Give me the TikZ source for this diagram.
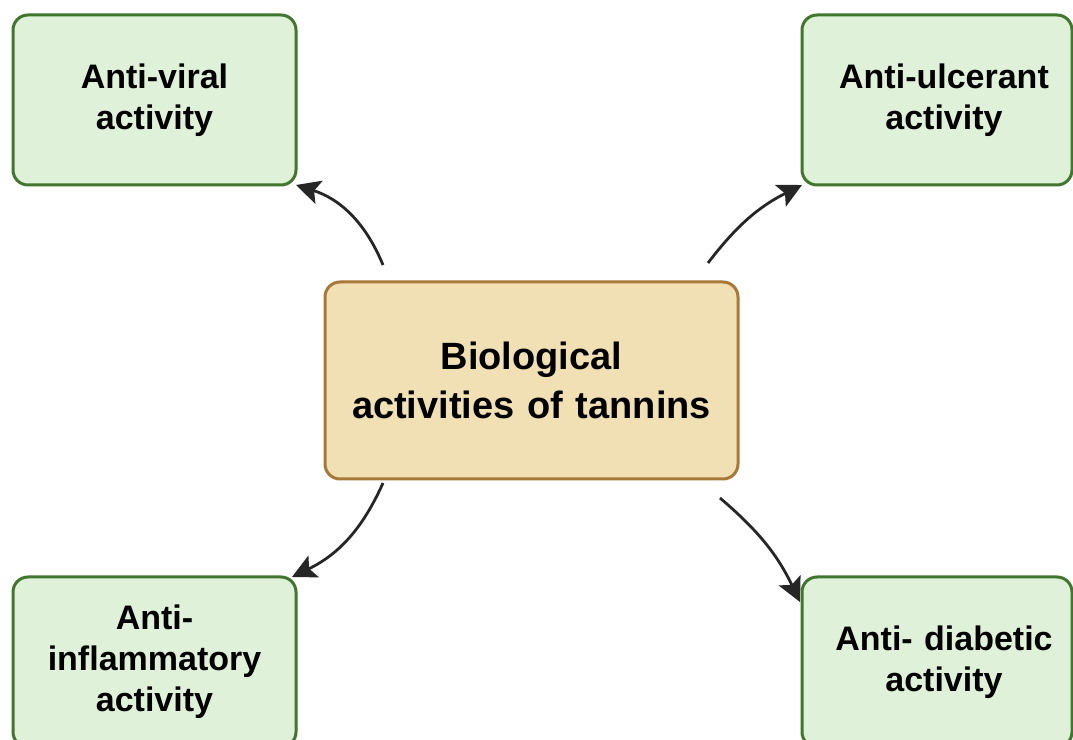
\documentclass[tikz,border=0pt]{standalone}
\usepackage{fontspec}
\setmainfont{Liberation Sans}
\usepackage{xcolor}
\usepackage{tikz}
\usetikzlibrary{shapes,arrows.meta,positioning}
\definecolor{leafgreen}{RGB}{223,242,217}
\definecolor{leafedge}{RGB}{66,118,46}
\definecolor{tanfill}{RGB}{240,224,180}
\definecolor{tanedge}{RGB}{168,120,56}
\definecolor{arrowgray}{RGB}{38,38,38}
\tikzstyle{activity} = [rectangle, draw=leafedge, line width=1.5pt, fill=leafgreen,
    text width=130pt, text centered, rounded corners=7.5pt, minimum width=141.5pt,
    minimum height=85pt, inner sep=0pt, outer sep=0pt,
    font=\bfseries\fontsize{17}{20.5}\selectfont]
\tikzstyle{topic} = [rectangle, draw=tanedge, line width=1.5pt, fill=tanfill,
    text width=190pt, text centered, rounded corners=7.5pt, minimum width=206.5pt,
    minimum height=98.5pt, inner sep=0pt, outer sep=0pt,
    font=\bfseries\fontsize{19}{24.5}\selectfont]
\tikzstyle{link} = [-{Stealth[length=12pt,width=12pt,inset=2.5pt]}, line width=1.4pt, draw=arrowgray]

\begin{document}
\begin{tikzpicture}

    \useasboundingbox (0,0) rectangle (536.5pt,370pt);

    % Place nodes
	\node [topic] (Tannins) at (265.75pt,179.75pt) {Biological\\activities of tannins};
	\node [activity, above left=48.5pt and 14.5pt of Tannins] (AntiViral) {Anti-viral\\activity};
	\node [activity, minimum width=135pt, above right=48.5pt and 32pt of Tannins] (AntiUlcerant) {\hspace*{7pt}Anti-ulcerant\\\hspace*{7pt}activity};
	\node [activity, below left=49pt and 14.5pt of Tannins] (AntiInflammatory) {Anti-\\inflammatory\\activity};
	\node [activity, minimum width=135pt, below right=49pt and 32pt of Tannins] (AntiDiabetic) {\hspace*{7pt}Anti- diabetic\\\hspace*{7pt}activity};

	\draw [link] ([xshift=29pt,yshift=8.5pt]Tannins.north west) to [bend right=25] (AntiViral.south east);
	\draw [link] ([xshift=-15pt,yshift=9.5pt]Tannins.north east) to [bend left=13] (AntiUlcerant.south west);
	\draw [link] ([xshift=29pt,yshift=-2pt]Tannins.south west) to [bend left=20] ([xshift=-2pt]AntiInflammatory.north east);
	\draw [link] ([xshift=-9pt,yshift=-9.5pt]Tannins.south east) to [bend left=12] ([xshift=-1pt,yshift=-12.5pt]AntiDiabetic.north west);

\end{tikzpicture}
\end{document}
